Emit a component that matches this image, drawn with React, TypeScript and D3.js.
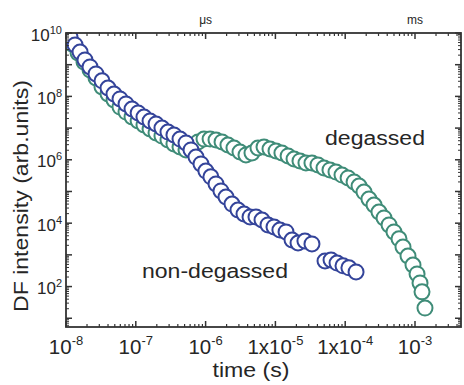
import React from "react";
import * as d3 from "d3";

// ---- data ----
const timesNonDegassed = [
  1.14e-8, 1.35e-8, 1.59e-8, 1.87e-8, 2.21e-8, 2.69e-8, 3.28e-8, 4.0e-8, 4.87e-8, 5.94e-8,
  7.24e-8, 8.83e-8, 1.08e-7, 1.31e-7, 1.6e-7, 1.95e-7, 2.37e-7, 2.89e-7, 3.52e-7, 4.3e-7,
  5.24e-7, 6.18e-7, 7.28e-7, 8.59e-7, 1.01e-6, 1.19e-6, 1.41e-6, 1.66e-6, 1.96e-6, 2.39e-6,
  2.91e-6, 3.55e-6, 4.33e-6, 5.27e-6, 6.43e-6, 7.83e-6, 9.55e-6, 1.16e-5, 1.42e-5, 1.73e-5,
  2.11e-5, 2.65e-5, 3.34e-5, 5.14e-5, 6.27e-5, 7.64e-5, 9.3e-5, 1.13e-4, 1.43e-4,
];
const intensityNonDegassed = [
  7.5e9, 4.2e9, 2.5e9, 1.41e9, 8.5e8, 5.1e8, 3.1e8, 1.84e8, 1.19e8, 8.3e7,
  5.8e7, 4.0e7, 3.0e7, 2.24e7, 1.67e7, 1.35e7, 1.0e7, 7.5e6, 6.1e6, 4.5e6,
  3.4e6, 2.04e6, 1.22e6, 7.4e5, 4.4e5, 2.9e5, 1.73e5, 1.04e5, 6.7e4, 4.0e4,
  2.6e4, 1.95e4, 1.57e4, 1.57e4, 1.26e4, 8.8e3, 7.6e3, 6.1e3, 5.3e3, 2.95e3,
  2.37e3, 2.74e3, 2.21e3, 640, 690, 550, 450, 390, 290,
];
const timesDegassed = [
  1.22e-8, 1.49e-8, 1.81e-8, 2.21e-8, 2.69e-8, 3.28e-8, 4.0e-8, 4.87e-8, 5.94e-8, 7.24e-8,
  8.83e-8, 1.08e-7, 1.31e-7, 1.6e-7, 1.95e-7, 2.37e-7, 2.89e-7, 3.52e-7, 4.3e-7, 5.24e-7,
  6.39e-7, 7.79e-7, 9.49e-7, 1.16e-6, 1.41e-6, 1.72e-6, 2.09e-6, 2.55e-6, 3.11e-6, 3.79e-6,
  4.62e-6, 5.63e-6, 6.87e-6, 8.37e-6, 1.02e-5, 1.24e-5, 1.52e-5, 1.85e-5, 2.25e-5, 2.74e-5,
  3.34e-5, 4.07e-5, 4.97e-5, 6.05e-5, 7.38e-5, 9.0e-5, 1.1e-4, 1.34e-4, 1.58e-4, 1.86e-4,
  2.19e-4, 2.59e-4, 3.05e-4, 3.6e-4, 4.25e-4, 5.0e-4, 5.9e-4, 6.73e-4, 7.94e-4, 9.36e-4,
  1.07e-3, 1.18e-3, 1.26e-3, 1.39e-3,
];
const intensityDegassed = [
  4.5e9, 2.34e9, 1.22e9, 6.8e8, 3.8e8, 1.98e8, 1.19e8, 7.7e7, 4.6e7, 3.2e7,
  2.24e7, 1.67e7, 1.25e7, 9.4e6, 7.0e6, 5.6e6, 4.2e6, 3.15e6, 2.54e6, 2.04e6,
  2.35e6, 3.65e6, 4.5e6, 4.5e6, 4.2e6, 3.65e6, 2.93e6, 2.35e6, 1.76e6, 1.42e6,
  1.64e6, 2.35e6, 2.54e6, 2.19e6, 1.9e6, 1.64e6, 1.32e6, 1.06e6, 9.2e5, 7.9e5,
  7.9e5, 6.9e5, 5.5e5, 4.8e5, 4.1e5, 3.3e5, 2.67e5, 2.0e5, 1.49e5, 9.6e4,
  5.8e4, 3.75e4, 2.25e4, 1.46e4, 8.8e3, 5.3e3, 3.2e3, 1.77e3, 920, 480,
  250, 130, 68, 21,
];

const xTickValues = [1e-8, 1e-7, 1e-6, 1e-5, 1e-4, 1e-3];
const xTickPrefixes = ["", "", "", "1x", "1x", ""];
const xTickExponents = ["-8", "-7", "-6", "-5", "-4", "-3"];
const yTickValues = [1e10, 1e8, 1e6, 1e4, 1e2];
const yTickExponents = ["10", "8", "6", "4", "2"];
const topLabelTimes = [1e-6, 1e-3];
const topLabelTexts = ["\u03bcs", "ms"];

const W = 464;
const H = 385;
const LEFT = 66;
const RIGHT = 461;
const TOP = 33;
const BOTTOM = 327;

const FONT = "'Liberation Sans', Arial, Helvetica, sans-serif";
const TEXT = "#262626";
const AXIS = "#333";
const BLUE = "#34449a";
const GREEN = "#3f8c78";

export default function App() {
  const x = d3.scaleLog().domain([1e-8, 4.56e-3]).range([LEFT, RIGHT]);
  const y = d3.scaleLog().domain([5.3, 1e10]).range([BOTTOM, TOP]);

  const [xd0, xd1] = x.domain();
  const [yd0, yd1] = y.domain();
  const xMinor: number[] = [];
  const xMajor: number[] = [];
  for (let e = -9; e <= -2; e++) {
    for (let m = 1; m <= 9; m++) {
      const v = m * Math.pow(10, e);
      if (v < xd0 * 0.999 || v > xd1) continue;
      (m === 1 ? xMajor : xMinor).push(v);
    }
  }
  const yMinor: number[] = [];
  const yMajor: number[] = [];
  for (let e = 0; e <= 10; e++) {
    for (let m = 1; m <= 9; m++) {
      const v = m * Math.pow(10, e);
      if (v < yd0 || v > yd1 * 1.001) continue;
      (m === 1 ? yMajor : yMinor).push(v);
    }
  }

  const r = 7.5;

  return (
    <svg
      width={W}
      height={H}
      style={{ position: "absolute", left: 0, top: 0, background: "#fff" }}
      fontFamily={FONT}
    >
      <defs>
        <clipPath id="plotClip">
          <rect x={LEFT} y={TOP} width={RIGHT - LEFT} height={BOTTOM - TOP} />
        </clipPath>
      </defs>

      {/* data */}
      <g clipPath="url(#plotClip)">
        {timesDegassed.map((t, i) => (
          <circle
            key={"g" + i}
            cx={x(t)}
            cy={y(intensityDegassed[i])}
            r={r}
            fill="#fff"
            stroke={GREEN}
            strokeWidth={2}
          />
        ))}
        {timesNonDegassed.map((t, i) => (
          <circle
            key={"b" + i}
            cx={x(t)}
            cy={y(intensityNonDegassed[i])}
            r={r}
            fill="#fff"
            stroke={BLUE}
            strokeWidth={2}
          />
        ))}
      </g>

      {/* frame */}
      <rect
        x={LEFT}
        y={TOP}
        width={RIGHT - LEFT}
        height={BOTTOM - TOP}
        fill="none"
        stroke={AXIS}
        strokeWidth={1.8}
      />

      {/* x ticks bottom & top */}
      {xMajor.map((v, i) => (
        <g key={"xM" + i} stroke={AXIS} strokeWidth={1.5}>
          <line x1={x(v)} x2={x(v)} y1={BOTTOM} y2={BOTTOM - 6} />
          <line x1={x(v)} x2={x(v)} y1={TOP} y2={TOP + 6} />
        </g>
      ))}
      {xMinor.map((v, i) => (
        <g key={"xm" + i} stroke={AXIS} strokeWidth={1.2}>
          <line x1={x(v)} x2={x(v)} y1={BOTTOM} y2={BOTTOM - 3} />
          <line x1={x(v)} x2={x(v)} y1={TOP} y2={TOP + 3} />
        </g>
      ))}

      {/* y ticks left & right */}
      {yMajor.map((v, i) => (
        <g key={"yM" + i} stroke={AXIS} strokeWidth={1.5}>
          <line x1={LEFT} x2={LEFT + 6} y1={y(v)} y2={y(v)} />
          <line x1={RIGHT} x2={RIGHT - 6} y1={y(v)} y2={y(v)} />
        </g>
      ))}
      {yMinor.map((v, i) => (
        <g key={"ym" + i} stroke={AXIS} strokeWidth={1}>
          <line x1={LEFT} x2={LEFT + 3} y1={y(v)} y2={y(v)} />
          <line x1={RIGHT} x2={RIGHT - 3} y1={y(v)} y2={y(v)} />
        </g>
      ))}

      {/* x tick labels */}
      {xTickValues.map((v, i) => (
        <text
          key={"xl" + i}
          x={x(v)}
          y={354}
          textAnchor="middle"
          fontSize={20.5}
          fill={TEXT}
        >
          {xTickPrefixes[i] + "10"}
          <tspan fontSize={13} dy={-9}>
            {xTickExponents[i]}
          </tspan>
        </text>
      ))}

      {/* y tick labels */}
      {yTickValues.map((v, i) => (
        <text
          key={"yl" + i}
          x={62}
          y={y(v) + 7.5}
          textAnchor="end"
          fontSize={17}
          fill={TEXT}
        >
          10
          <tspan fontSize={11} dy={-7}>
            {yTickExponents[i]}
          </tspan>
        </text>
      ))}

      {/* top unit labels */}
      {topLabelTimes.map((t, i) => (
        <text
          key={"tl" + i}
          x={x(t)}
          y={24}
          textAnchor="middle"
          fontSize={12}
          fill={TEXT}
        >
          {topLabelTexts[i]}
        </text>
      ))}

      {/* axis titles */}
      <text
        x={251}
        y={377}
        textAnchor="middle"
        fontSize={20}
        fill={TEXT}
        textLength={77}
        lengthAdjust="spacingAndGlyphs"
      >
        time (s)
      </text>
      <text
        transform={`translate(28,196) rotate(-90)`}
        textAnchor="middle"
        fontSize={21}
        fill={TEXT}
        textLength={232}
        lengthAdjust="spacingAndGlyphs"
      >
        DF intensity (arb.units)
      </text>

      {/* series labels */}
      <text
        x={325}
        y={145}
        fontSize={20}
        fill={TEXT}
        textLength={100}
        lengthAdjust="spacingAndGlyphs"
      >
        degassed
      </text>
      <text
        x={142}
        y={278}
        fontSize={20}
        fill={TEXT}
        textLength={146}
        lengthAdjust="spacingAndGlyphs"
      >
        non-degassed
      </text>
    </svg>
  );
}
